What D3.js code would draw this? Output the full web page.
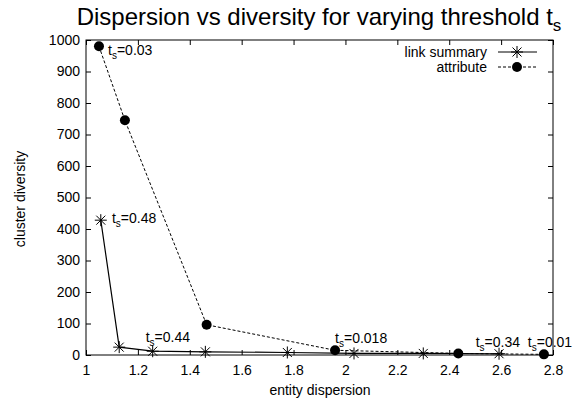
<!DOCTYPE html>
<html>
<head>
<meta charset="utf-8">
<script src="https://cdn.jsdelivr.net/npm/d3@7"></script>
<style>
  body { margin: 0; background: #fff; }
  text { font-family: "Liberation Sans", Arial, sans-serif; fill: #000; }
</style>
</head>
<body>
<svg id="chart" width="581" height="401"></svg>
<script>
// data
const linkX = [1.057, 1.128, 1.257, 1.46, 1.776, 2.033, 2.3, 2.592];
const linkY = [428, 25, 12, 10, 8, 5, 5, 4];
const attrX = [1.05, 1.15, 1.465, 1.96, 2.435, 2.765];
const attrY = [980, 745, 96, 15, 5, 2];
const xTicks = [1, 1.2, 1.4, 1.6, 1.8, 2, 2.2, 2.4, 2.6, 2.8];
const yTicks = [0, 100, 200, 300, 400, 500, 600, 700, 800, 900, 1000];
// threshold labels, placed at data coordinates like gnuplot "set label ... at x,y"
const labelValue = ["0.03", "0.48", "0.44", "0.018", "0.34", "0.01"];
const labelAtX = [1.085, 1.1, 1.23, 1.96, 2.502, 2.703];
const labelAtY = [968, 435, 57, 55, 42, 42];

const svg = d3.select("#chart");
const mLeft = 86, mRight = 553, mTop = 40, mBottom = 355;

const x = d3.scaleLinear().domain([1, 2.8]).range([mLeft, mRight]);
const y = d3.scaleLinear().domain([0, 1000]).range([mBottom, mTop]);

// title
const title = svg.append("text")
  .attr("x", 319).attr("y", 25)
  .attr("text-anchor", "middle")
  .attr("font-size", 24);
title.append("tspan").text("Dispersion vs diversity for varying threshold t");
title.append("tspan").attr("dy", 6).attr("font-size", 17).text("s");

// axes with inner ticks (gnuplot style, mirrored)
const fmt = d3.format("");
const xAxisB = d3.axisBottom(x).tickValues(xTicks).tickSize(-5).tickPadding(10).tickFormat(fmt);
const xAxisT = d3.axisTop(x).tickValues(xTicks).tickSize(-5).tickFormat("");
const yAxisL = d3.axisLeft(y).tickValues(yTicks).tickSize(-5).tickPadding(6).tickFormat(fmt);
const yAxisR = d3.axisRight(y).tickValues(yTicks).tickSize(-5).tickFormat("");

const styleAxis = (g) => {
  g.select(".domain").remove();
  g.selectAll("line").attr("stroke", "#000");
  g.selectAll("text").attr("font-size", 14).attr("font-family", "Liberation Sans, Arial, sans-serif");
};
svg.append("g").attr("transform", `translate(0,${mBottom})`).call(xAxisB).call(styleAxis);
svg.append("g").attr("transform", `translate(0,${mTop})`).call(xAxisT).call(styleAxis);
svg.append("g").attr("transform", `translate(${mLeft},0)`).call(yAxisL).call(styleAxis);
svg.append("g").attr("transform", `translate(${mRight},0)`).call(yAxisR).call(styleAxis);

svg.append("rect")
  .attr("x", mLeft).attr("y", mTop)
  .attr("width", mRight - mLeft).attr("height", mBottom - mTop)
  .attr("fill", "none").attr("stroke", "#000").attr("stroke-width", 1);

// axis titles
svg.append("text")
  .attr("x", 320).attr("y", 395)
  .attr("text-anchor", "middle").attr("font-size", 14)
  .text("entity dispersion");
svg.append("text")
  .attr("transform", "translate(25,199) rotate(-90)")
  .attr("text-anchor", "middle").attr("font-size", 14)
  .text("cluster diversity");

const linkPts = linkX.map((v, i) => ({ x: v, y: linkY[i] }));
const attrPts = attrX.map((v, i) => ({ x: v, y: attrY[i] }));

const line = d3.line().x((d) => x(d.x)).y((d) => y(d.y));

svg.append("path").datum(attrPts)
  .attr("d", line).attr("fill", "none")
  .attr("stroke", "#000").attr("stroke-width", 1)
  .attr("stroke-dasharray", "3,2");
svg.append("path").datum(linkPts)
  .attr("d", line).attr("fill", "none")
  .attr("stroke", "#000").attr("stroke-width", 1.2);

const star = (g, cx, cy, r) => {
  const d = r * 0.75;
  g.append("path")
    .attr("d", `M${cx - r},${cy}H${cx + r}M${cx},${cy - r}V${cy + r}` +
      `M${cx - d},${cy - d}L${cx + d},${cy + d}M${cx - d},${cy + d}L${cx + d},${cy - d}`)
    .attr("stroke", "#000").attr("stroke-width", 1).attr("fill", "none");
};

const marks = svg.append("g");
linkPts.forEach((p) => star(marks, x(p.x), y(p.y), 6));
marks.selectAll("circle")
  .data(attrPts)
  .enter()
  .append("circle")
  .attr("cx", (d) => x(d.x))
  .attr("cy", (d) => y(d.y))
  .attr("r", 5)
  .attr("fill", "#000");

// t_s labels
labelValue.forEach((val, i) => {
  const t = svg.append("text")
    .attr("x", x(labelAtX[i])).attr("y", y(labelAtY[i]) + 5)
    .attr("font-size", 14);
  t.append("tspan").text("t");
  t.append("tspan").attr("dy", 4).attr("font-size", 10).text("s");
  t.append("tspan").attr("dy", -4).text("=" + val);
});

// legend
const legend = svg.append("g");
const lgItems = [
  { name: "link summary", dash: null },
  { name: "attribute", dash: "3,2" },
];
lgItems.forEach((it, i) => {
  const ly = 52 + i * 15;
  legend.append("text")
    .attr("x", 487).attr("y", ly + 5)
    .attr("text-anchor", "end").attr("font-size", 14)
    .text(it.name);
  legend.append("line")
    .attr("x1", 498).attr("x2", 537)
    .attr("y1", ly).attr("y2", ly)
    .attr("stroke", "#000").attr("stroke-width", 1)
    .attr("stroke-dasharray", it.dash);
  if (i === 0) star(legend, 517, ly, 6);
  else legend.append("circle").attr("cx", 517).attr("cy", ly).attr("r", 5).attr("fill", "#000");
});
</script>
</body>
</html>
